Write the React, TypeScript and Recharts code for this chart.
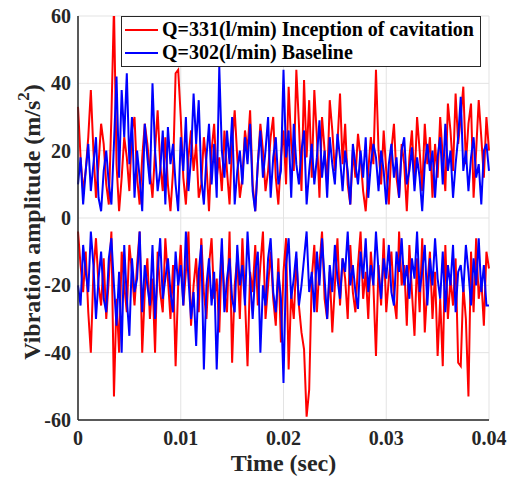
import { LineChart, Line, XAxis, YAxis, CartesianGrid, Legend } from 'recharts';

// sampled every 0.25 ms from 0 to 0.04 s
const SAMPLE_STEP = 0.00025;

// Q=331 (l/min), upper / lower halves of the trace
const RED_POS = [
  33, 18, 8, 14, 24, 38, 20, 6, 16, 28,
  22, 10, 4, 30, 63, 16, 2, 12, 24, 18,
  8, 26, 30, 12, 4, 18, 28, 22, 14, 6,
  20, 32, 16, 8, 24, 10, 2, 14, 43, 44,
  30, 12, 4, 18, 26, 14, 22, 6, 10, 24,
  16, 2, 20, 28, 12, 18, 8, 26, 14, 4,
  22, 32, 18, 6, 12, 26, 20, 32, 10, 2,
  16, 28, 20, 8, 14, 24, 30, 12, 4, 18,
  26, 10, 39, 22, 14, 44, 28, 8, 41, 18,
  35, 12, 38, 24, 6, 30, 20, 10, 35, 26,
  14, 22, 37, 16, 28, 10, 4, 20, 12, 25,
  18, 8, 2, 14, 24, 16, 44, 20, 10, 26,
  14, 4, 20, 28, 12, 6, 22, 16, 2, 18,
  26, 10, 30, 20, 8, 28, 16, 24, 6, 22,
  12, 30, 18, 8, 34, 26, 14, 37, 22, 30,
  39, 16, 28, 34, 6, 20, 35, 24, 12, 30,
  20,
];
const RED_NEG = [
  -4, -14, -22, -10, -28, -40, -16, -6, -20, -26,
  -12, -30, -18, -4, -53, -24, -40, -10, -20, -28,
  -8, -16, -26, -14, -4, -40, -22, -12, -30, -18,
  -40, -10, -22, -28, -6, -18, -30, -14, -44, -20,
  -8, -26, -16, -4, -32, -20, -12, -28, -6, -22,
  -30, -14, -6, -24, -18, -34, -10, -22, -28, -4,
  -43, -20, -12, -30, -6, -24, -44, -16, -22, -8,
  -26, -14, -4, -30, -20, -10, -24, -32, -12, -37,
  -16, -6, -45, -22, -30, -12, -26, -34, -39, -59,
  -51, -18, -8, -28, -14, -4, -24, -30, -16, -34,
  -20, -6, -26, -12, -18, -30, -8, -22, -28, -14,
  -4, -24, -16, -30, -10, -20, -41, -14, -26, -6,
  -28, -18, -10, -24, -30, -4, -20, -14, -32, -8,
  -22, -35, -12, -28, -6, -34, -20, -10, -30, -16,
  -41, -24, -44, -8, -30, -18, -26, -12, -43, -44,
  -20, -30, -53, -10, -28, -6, -24, -18, -32, -10,
  -15,
];

// Q=302 (l/min) baseline
const BLUE_POS = [
  10, 18, 4, 14, 22, 8, 16, 24, 6, 2,
  14, 20, 10, 4, 22, 42, 12, 38, 24, 43,
  16, 30, 6, 20, 12, 2, 28, 18, 10, 40,
  20, 8, 14, 26, 4, 27, 16, 22, 10, 2,
  24, 14, 30, 8, 18, 37, 22, 35, 12, 4,
  18, 28, 10, 22, 6, 45, 20, 12, 26, 16,
  30, 4, 14, 20, 10, 24, 16, 28, 8, 2,
  16, 26, 12, 20, 30, 6, 18, 24, 10, 14,
  44, 18, 26, 6, 28, 16, 10, 20, 26, 4,
  14, 22, 10, 18, 29, 12, 20, 6, 24, 16,
  10, 25, 18, 8, 20, 14, 4, 22, 16, 10,
  20, 12, 24, 6, 16, 22, 18, 8, 20, 14,
  4, 16, 22, 12, 18, 6, 20, 24, 10, 14,
  21, 8, 18, 12, 2, 16, 22, 14, 20, 6,
  18, 24, 10, 28, 14, 20, 6, 16, 24, 36,
  14, 20, 8, 18, 24, 12, 16, 4, 20, 22,
  14,
];
const BLUE_NEG = [
  -20, -26, -8, -16, -22, -4, -14, -30, -18, -10,
  -24, -28, -12, -6, -20, -32, -16, -40, -8, -24,
  -35, -12, -22, -18, -4, -28, -14, -20, -26, -8,
  -30, -16, -6, -24, -18, -12, -22, -28, -10, -20,
  -14, -26, -4, -18, -30, -22, -38, -16, -8, -45,
  -20, -12, -26, -16, -45, -22, -6, -28, -18, -12,
  -24, -28, -8, -20, -14, -26, -4, -18, -30, -16,
  -10, -40, -20, -26, -12, -6, -22, -28, -16, -24,
  -49, -14, -6, -24, -18, -10, -26, -20, -12, -4,
  -22, -16, -28, -10, -20, -6, -18, -30, -14, -22,
  -8, -18, -24, -12, -16, -4, -20, -14, -22, -27,
  -10, -18, -6, -22, -14, -20, -4, -16, -24, -12,
  -18, -8, -22, -26, -10, -16, -6, -20, -14, -24,
  -12, -18, -4, -22, -16, -8, -26, -12, -20, -6,
  -18, -24, -10, -28, -14, -20, -8, -28, -16, -14,
  -22, -8, -16, -26, -12, -20, -6, -22, -14, -26,
  -26,
];

const X_TICKS = [0, 0.01, 0.02, 0.03, 0.04];
const X_TICK_LABELS = ['0', '0.01', '0.02', '0.03', '0.04'];
const Y_TICKS = [-60, -40, -20, 0, 20, 40, 60];

const SERIES_NAMES = ['Q=331(l/min) Inception of cavitation', 'Q=302(l/min) Baseline'];

const data = RED_POS.map((v, i) => ({
  t: +(i * SAMPLE_STEP).toFixed(5),
  rp: v,
  rn: RED_NEG[i],
  bp: BLUE_POS[i],
  bn: BLUE_NEG[i],
}));

const FONT = '"Liberation Serif", "Times New Roman", serif';
const AXIS = '#262626';
const RED = '#ff0000';
const BLUE = '#0000ff';

const tickStyle = { fontSize: 20, fontWeight: 'bold', fill: AXIS, fontFamily: FONT };

function LegendBox() {
  const rows = [
    { color: RED, name: SERIES_NAMES[0] },
    { color: BLUE, name: SERIES_NAMES[1] },
  ];
  return (
    <div
      style={{
        background: '#fff',
        border: '1px solid #262626',
        padding: '1px 6px 2px 3px',
        fontFamily: FONT,
        fontWeight: 'bold',
        fontSize: 20,
        color: '#000',
        lineHeight: '23px',
        whiteSpace: 'nowrap',
      }}
    >
      {rows.map((r) => (
        <div key={r.name} style={{ display: 'flex', alignItems: 'center' }}>
          <span style={{ display: 'inline-block', width: 33, height: 2, background: r.color, marginRight: 4 }} />
          <span>{r.name}</span>
        </div>
      ))}
    </div>
  );
}

function YLabel({ viewBox }: any) {
  const cx = 32;
  const cy = viewBox.y + viewBox.height / 2 + 4;
  return (
    <text
      transform={`translate(${cx},${cy}) rotate(-90)`}
      textAnchor="middle"
      dominantBaseline="central"
      fontFamily={FONT}
      fontWeight="bold"
      fontSize={24}
      fill={AXIS}
    >
      Vibration amplitude (m/s
      <tspan dy={-9} fontSize={17}>2</tspan>
      <tspan dy={9}>)</tspan>
    </text>
  );
}

function XLabel({ viewBox }: any) {
  return (
    <text
      x={viewBox.x + viewBox.width / 2}
      y={471}
      textAnchor="middle"
      fontFamily={FONT}
      fontWeight="bold"
      fontSize={24}
      fill={AXIS}
    >
      Time (sec)
    </text>
  );
}

export default function App() {
  return (
    <div style={{ position: 'absolute', left: 0, top: 0, width: 508, height: 480, background: '#fff' }}>
      <LineChart width={508} height={480} data={data} margin={{ top: 16, right: 19, bottom: 0, left: 0 }}>
        <CartesianGrid stroke="#e3e3e3" strokeWidth={1} horizontalValues={Y_TICKS} verticalValues={X_TICKS} />
        <XAxis
          dataKey="t"
          type="number"
          domain={[0, 0.04]}
          ticks={X_TICKS}
          tickFormatter={(v: number) => X_TICK_LABELS[X_TICKS.indexOf(v)] ?? String(v)}
          tick={tickStyle}
          tickSize={0}
          tickMargin={11}
          height={60}
          stroke={AXIS}
          strokeWidth={1.5}
          interval={0}
          label={<XLabel />}
        />
        <XAxis xAxisId="top" orientation="top" dataKey="t" type="number" domain={[0, 0.04]} tick={false} tickLine={false} height={0} stroke={AXIS} strokeWidth={1.5} />
        <YAxis
          type="number"
          domain={[-60, 60]}
          ticks={Y_TICKS}
          allowDataOverflow
          tick={tickStyle}
          tickSize={0}
          tickMargin={7}
          width={78}
          stroke={AXIS}
          strokeWidth={1.5}
          interval={0}
          label={<YLabel />}
        />
        <YAxis yAxisId="right" orientation="right" type="number" domain={[-60, 60]} tick={false} tickLine={false} width={0} stroke={AXIS} strokeWidth={1.5} />
        <Legend
          content={<LegendBox />}
          layout="horizontal"
          align="center"
          verticalAlign="middle"
          wrapperStyle={{ position: 'absolute', left: 121, top: 16, width: 'auto', height: 'auto' }}
        />
        <Line dataKey="rp" stroke={RED} strokeWidth={2} dot={false} isAnimationActive={false} legendType="none" />
        <Line dataKey="rn" stroke={RED} strokeWidth={2} dot={false} isAnimationActive={false} legendType="none" />
        <Line dataKey="bp" stroke={BLUE} strokeWidth={2} dot={false} isAnimationActive={false} legendType="none" />
        <Line dataKey="bn" stroke={BLUE} strokeWidth={2} dot={false} isAnimationActive={false} legendType="none" />
      </LineChart>
    </div>
  );
}
